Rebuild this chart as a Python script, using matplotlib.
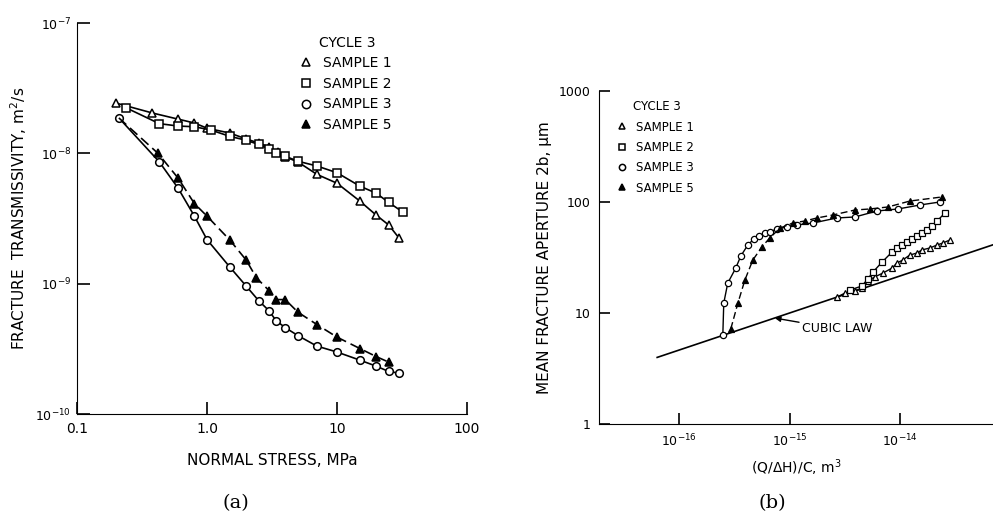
import matplotlib
matplotlib.use('Agg')
import matplotlib.pyplot as plt
from matplotlib.lines import Line2D

plt.rcParams['font.family'] = 'DejaVu Sans'
plt.rcParams['mathtext.default'] = 'regular'

# (a) fracture transmissivity vs normal stress, cycle 3
s1_stress = [0.2, 0.38, 0.6, 0.8, 1.0, 1.5, 2.0, 2.5, 3.0, 3.5, 4.0, 5.0, 7.0, 10, 15, 20, 25, 30]
s1_trans = [2.43e-8, 2.04e-8, 1.83e-8, 1.71e-8, 1.56e-8, 1.43e-8, 1.29e-8, 1.20e-8, 1.12e-8,
            1.02e-8, 9.4e-9, 8.6e-9, 6.9e-9, 5.9e-9, 4.3e-9, 3.36e-9, 2.82e-9, 2.24e-9]

s2_stress = [0.24, 0.43, 0.6, 0.8, 1.07, 1.5, 2.0, 2.5, 3.0, 3.4, 4.0, 5.0, 7.0, 10, 15, 20, 25, 32]
s2_trans = [2.23e-8, 1.69e-8, 1.62e-8, 1.60e-8, 1.51e-8, 1.35e-8, 1.26e-8, 1.17e-8, 1.08e-8,
            1.00e-8, 9.5e-9, 8.7e-9, 8.0e-9, 7.1e-9, 5.6e-9, 4.95e-9, 4.2e-9, 3.55e-9]

s3_stress = [0.21, 0.43, 0.6, 0.8, 1.0, 1.5, 2.0, 2.5, 3.0, 3.4, 4.0, 5.0, 7.0, 10, 15, 20, 25, 30]
s3_trans = [1.87e-8, 8.6e-9, 5.4e-9, 3.3e-9, 2.18e-9, 1.34e-9, 9.6e-10, 7.4e-10, 6.2e-10,
            5.2e-10, 4.6e-10, 4.0e-10, 3.32e-10, 2.99e-10, 2.59e-10, 2.33e-10, 2.12e-10, 2.06e-10]

s5_stress = [0.21, 0.42, 0.6, 0.8, 1.0, 1.5, 2.0, 2.4, 3.0, 3.4, 4.0, 5.0, 7.0, 10, 15, 20, 25]
s5_trans = [1.87e-8, 1.0e-8, 6.45e-9, 4.12e-9, 3.30e-9, 2.16e-9, 1.52e-9, 1.11e-9, 8.85e-10,
            7.55e-10, 7.55e-10, 6.05e-10, 4.86e-10, 3.89e-10, 3.18e-10, 2.76e-10, 2.50e-10]

# (b) mean aperture vs (Q/dH)/C
b1_q = [2.68e-15, 3.17e-15, 3.91e-15, 4.52e-15, 5.1e-15, 5.9e-15, 7.0e-15, 8.5e-15, 9.4e-15,
        1.06e-14, 1.23e-14, 1.43e-14, 1.58e-14, 1.87e-14, 2.17e-14, 2.45e-14, 2.84e-14]
b1_ap = [13.9, 15.1, 15.8, 16.8, 19.4, 21.1, 22.9, 25.4, 28.2, 30.0, 33.3, 34.7, 37, 38.5, 41, 42.7, 45.5]

b2_q = [3.52e-15, 4.52e-15, 5.1e-15, 5.7e-15, 6.9e-15, 8.5e-15, 9.4e-15, 1.04e-14, 1.16e-14,
        1.28e-14, 1.43e-14, 1.58e-14, 1.76e-14, 1.95e-14, 2.17e-14, 2.56e-14]
b2_ap = [16.1, 17.5, 20.2, 23.4, 28.8, 35.5, 38.5, 41, 43.6, 46.4, 49.4, 52.6, 56, 60.8, 67.4, 79.6]

b3_q = [2.48e-16, 2.53e-16, 2.75e-16, 3.25e-16, 3.61e-16, 4.18e-16, 4.74e-16, 5.26e-16, 5.97e-16,
        6.6e-16, 7.65e-16, 9.44e-16, 1.16e-15, 1.63e-15, 2.68e-15, 3.91e-15, 6.2e-15, 9.6e-15,
        1.52e-14, 2.3e-14]
b3_ap = [6.3, 12.3, 18.6, 25.4, 32.6, 41.0, 46.4, 49.4, 52.6, 53.7, 57.1, 59.5, 62.1, 64.7,
         71.8, 73.3, 83, 86.5, 94, 100]

b5_q = [2.93e-16, 3.40e-16, 3.93e-16, 4.64e-16, 5.6e-16, 6.6e-16, 8.2e-16, 1.07e-15, 1.37e-15,
        1.77e-15, 2.47e-15, 3.91e-15, 5.3e-15, 7.8e-15, 1.23e-14, 2.4e-14]
b5_ap = [7.2, 12.3, 19.8, 30.0, 39.3, 47.4, 58.3, 64.7, 67.4, 71.8, 76.4, 84.7, 86.5, 90.2, 102, 111]

cubic_q = [6.3e-17, 7e-14]
cubic_ap = [3.98, 41.2]

labels = ['SAMPLE 1', 'SAMPLE 2', 'SAMPLE 3', 'SAMPLE 5']
markers = ['^', 's', 'o', '^']
faces = ['white', 'white', 'white', 'black']


def strip(ax):
	ax.spines['top'].set_visible(False)
	ax.spines['right'].set_visible(False)
	ax.minorticks_off()


def legend(ax, anchor, size, ms, spacing):
	handles = [Line2D([], [], ls='none', marker=m, mfc=f, mec='black', ms=ms, mew=1.1)
	           for m, f in zip(markers, faces)]
	lg = ax.legend(handles, labels, title='CYCLE 3', loc='upper left', bbox_to_anchor=anchor,
	               frameon=False, fontsize=size, title_fontsize=size, handlelength=0.6,
	               handletextpad=0.9, labelspacing=spacing, borderpad=0)
	return lg


fig = plt.figure(figsize=(9.93, 5.23), dpi=100)

# ---- panel (a)
ax1 = fig.add_axes([0.0775, 0.2084, 0.3928, 0.7476])
kw = dict(color='black', lw=1.2, mec='black', mew=1.1)
ax1.plot(s1_stress, s1_trans, marker='^', mfc='white', ms=6, **kw)
ax1.plot(s2_stress, s2_trans, marker='s', mfc='white', ms=6, **kw)
ax1.plot(s3_stress, s3_trans, marker='o', mfc='white', ms=5.5, **kw)
ax1.plot(s5_stress, s5_trans, marker='^', mfc='black', ms=6, ls=(0, (6, 3)),
         markevery=slice(1, None), **kw)
ax1.set_xscale('log')
ax1.set_yscale('log')
ax1.set_xlim(0.1, 100)
ax1.set_ylim(1e-10, 1e-7)
strip(ax1)
ax1.set_xticks([0.1, 1, 10, 100])
ax1.set_xticklabels(['0.1', '1.0', '10', '100'])
ax1.set_yticks([1e-10, 1e-9, 1e-8, 1e-7])
ax1.set_yticklabels(['$10^{-10}$', '$10^{-9}$', '$10^{-8}$', '$10^{-7}$'])
ax1.tick_params(direction='in', length=9, width=1.2, labelsize=10, pad=6)
ax1.tick_params(axis='y', labelsize=9, pad=4)
ax1.set_xlabel('NORMAL STRESS, MPa', fontsize=11, labelpad=12)
ax1.set_ylabel('FRACTURE  TRANSMISSIVITY, m$^2$/s', fontsize=11, labelpad=5)
legend(ax1, (0.56, 0.985), 10, 6, 0.47)

# ---- panel (b)
ax2 = fig.add_axes([0.6032, 0.1893, 0.3968, 0.6367])
kw = dict(color='black', lw=1.0, mec='black', mew=0.9)
ax2.plot(cubic_q, cubic_ap, color='black', lw=1.2)
ax2.plot(b1_q, b1_ap, marker='^', mfc='white', ms=4.5, **kw)
ax2.plot(b2_q, b2_ap, marker='s', mfc='white', ms=5, **kw)
ax2.plot(b3_q, b3_ap, marker='o', mfc='white', ms=4.5, **kw)
ax2.plot(b5_q, b5_ap, marker='^', mfc='black', ms=4.5, ls=(0, (5, 2.5)), **kw)
ax2.set_xscale('log')
ax2.set_yscale('log')
ax2.set_xlim(1.87e-17, 6.98e-14)
ax2.set_ylim(1, 1000)
strip(ax2)
ax2.set_xticks([1e-16, 1e-15, 1e-14])
ax2.set_xticklabels(['$10^{-16}$', '$10^{-15}$', '$10^{-14}$'])
ax2.set_yticks([1, 10, 100, 1000])
ax2.set_yticklabels(['1', '10', '100', '1000'])
ax2.tick_params(direction='in', length=8, width=1.2, labelsize=9, pad=6)
ax2.set_xlabel('(Q/$\\Delta$H)/C, m$^3$', fontsize=10, labelpad=6)
ax2.set_ylabel('MEAN FRACTURE APERTURE 2b, \u03bcm', fontsize=11, labelpad=5)
ax2.annotate('CUBIC LAW', xy=(7.35e-16, 9.0), xytext=(1.29e-15, 7.2), fontsize=9,
             va='center', ha='left',
             arrowprops=dict(arrowstyle='-|>', color='black', lw=1.0, shrinkA=0, shrinkB=0,
                             mutation_scale=8))
legend(ax2, (0.035, 0.99), 8.5, 4.5, 0.62)

fig.text(0.238, 0.028, '(a)', fontsize=14, family='DejaVu Serif', ha='center')
fig.text(0.778, 0.028, '(b)', fontsize=14, family='DejaVu Serif', ha='center')

fig.savefig('out.png', dpi=100)
